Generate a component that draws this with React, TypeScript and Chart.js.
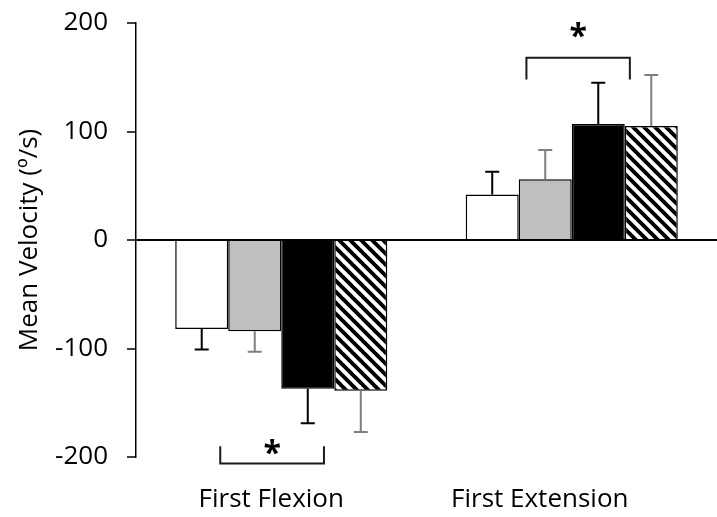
import React, { useEffect, useRef } from "react";
import { Chart, registerables } from "chart.js";

Chart.register(...registerables);

// ---- data ----
const categories = ["First Flexion", "First Extension"];
const seriesNames = ["Series 1", "Series 2", "Series 3", "Series 4"];
const whiteValues = [-82, 42];
const grayValues = [-84, 56];
const blackValues = [-137, 107];
const hatchValues = [-139, 105];
const whiteErrors = [19, 21];
const grayErrors = [19, 27];
const blackErrors = [32, 38];
const hatchErrors = [38, 47];
const yMin = -200;
const yMax = 200;
const yStep = 100;
const yTitle = "Mean Velocity (º/s)";

// significance brackets (category units on x, value units on y)
const sigFrom = [-0.21, 0.844];
const sigTo = [0.147, 1.2];
const sigLineY = [-206, 168];
const sigTipY = [-190, 148];
const sigStarY = [-191, 194];
const sigText = ["*", "*"];

// ---- styles ----
const FONT = "'Open Sans', sans-serif";
const FS = 26;
const errColors = ["#000000", "#7f7f7f", "#000000", "#7f7f7f"];
const labelShift = [-10, -32];

function makeHatch(): CanvasPattern | string {
  const s = 11;
  const c = document.createElement("canvas");
  c.width = s;
  c.height = s;
  const g = c.getContext("2d");
  if (!g) return "#000";
  g.fillStyle = "#fff";
  g.fillRect(0, 0, s, s);
  g.strokeStyle = "#000";
  g.lineWidth = s / (2 * Math.SQRT2);
  g.beginPath();
  for (const x0 of [-s, 0, s]) {
    g.moveTo(x0 - 1, -1);
    g.lineTo(x0 + s + 1, s + 1);
  }
  g.stroke();
  const p = g.createPattern(c, "repeat");
  return p || "#000";
}

export default function App() {
  const ref = useRef<HTMLCanvasElement | null>(null);

  useEffect(() => {
    const canvas = ref.current;
    if (!canvas) return;
    const valueSets = [whiteValues, grayValues, blackValues, hatchValues];
    const errorSets = [whiteErrors, grayErrors, blackErrors, hatchErrors];
    const fills: any[] = ["#ffffff", "#bfbfbf", "#000000", makeHatch()];

    const annot = {
      id: "annot",
      afterDatasetsDraw(chart: any) {
        const ctx = chart.ctx;
        const ys = chart.scales.y;
        errorSets.forEach((errs, di) => {
          const meta = chart.getDatasetMeta(di);
          meta.data.forEach((bar: any, j: number) => {
            const v = valueSets[di][j];
            const tip = v + Math.sign(v) * errs[j];
            const y0 = ys.getPixelForValue(v);
            const y1 = ys.getPixelForValue(tip);
            ctx.save();
            ctx.strokeStyle = errColors[di];
            ctx.lineWidth = 2;
            ctx.beginPath();
            ctx.moveTo(bar.x, y0);
            ctx.lineTo(bar.x, y1);
            ctx.moveTo(bar.x - 7, y1);
            ctx.lineTo(bar.x + 7, y1);
            ctx.stroke();
            ctx.restore();
          });
        });
      },
      afterDraw(chart: any) {
        const ctx = chart.ctx;
        const xs = chart.scales.x;
        const ys = chart.scales.y;
        ctx.save();
        for (let i = 0; i < sigFrom.length; i++) {
          const x1 = xs.getPixelForValue(sigFrom[i]);
          const x2 = xs.getPixelForValue(sigTo[i]);
          const yl = ys.getPixelForValue(sigLineY[i]);
          const yt = ys.getPixelForValue(sigTipY[i]);
          ctx.strokeStyle = "#1a1a1a";
          ctx.lineWidth = 2;
          ctx.beginPath();
          ctx.moveTo(x1, yt);
          ctx.lineTo(x1, yl);
          ctx.lineTo(x2, yl);
          ctx.lineTo(x2, yt);
          ctx.stroke();
          ctx.font = `bold 32px ${FONT}`;
          ctx.fillStyle = "#000";
          ctx.textAlign = "center";
          ctx.textBaseline = "alphabetic";
          const m = ctx.measureText(sigText[i]);
          const cy = ys.getPixelForValue(sigStarY[i]);
          const dy = (m.actualBoundingBoxAscent - m.actualBoundingBoxDescent) / 2;
          ctx.fillText(sigText[i], (x1 + x2) / 2, cy + dy);
        }
        ctx.font = `${FS}px ${FONT}`;
        ctx.fillStyle = "#000";
        ctx.textAlign = "center";
        ctx.textBaseline = "alphabetic";
        categories.forEach((c, i) => {
          ctx.fillText(c, xs.getPixelForValue(i) + labelShift[i], 507);
        });
        ctx.restore();
      },
    };

    const chart = new Chart(canvas, {
      type: "bar",
      data: {
        labels: categories,
        datasets: valueSets.map((vals, i) => ({
          label: seriesNames[i],
          data: vals,
          backgroundColor: fills[i],
          borderColor: "#000000",
          borderWidth: 1.5,
          categoryPercentage: 0.73,
          barPercentage: 1.0,
          inflateAmount: 0,
        })),
      },
      options: {
        responsive: false,
        animation: false,
        devicePixelRatio: 1,
        layout: { padding: { left: 0, right: 0, top: 23, bottom: 60 } },
        plugins: {
          legend: { display: false },
          tooltip: { enabled: false },
        },
        scales: {
          x: {
            type: "category",
            display: false,
            offset: true,
          },
          y: {
            min: yMin,
            max: yMax,
            afterFit: (s: any) => {
              s.width = 136;
              s.paddingTop = 0;
              s.paddingBottom = 0;
            },
            ticks: {
              stepSize: yStep,
              color: "#000",
              padding: 19,
              font: { family: FONT, size: FS },
            },
            grid: {
              drawOnChartArea: true,
              drawTicks: true,
              tickLength: 9,
              tickColor: "#000",
              tickWidth: 1.5,
              lineWidth: 2,
              color: (c: any) => (c.tick && c.tick.value === 0 ? "#000" : "rgba(0,0,0,0)"),
            },
            border: { display: true, color: "#000", width: 1.5 },
            title: {
              display: true,
              text: yTitle,
              color: "#000",
              font: { family: FONT, size: FS },
              padding: { top: 14.4, bottom: 10 },
            },
          },
        },
      },
      plugins: [annot],
    });
    return () => chart.destroy();
  }, []);

  return (
    <div style={{ position: "fixed", left: 0, top: 0, width: 717, height: 517, background: "#fff" }}>
      <canvas ref={ref} width={717} height={517} style={{ width: 717, height: 517, display: "block" }} />
    </div>
  );
}
